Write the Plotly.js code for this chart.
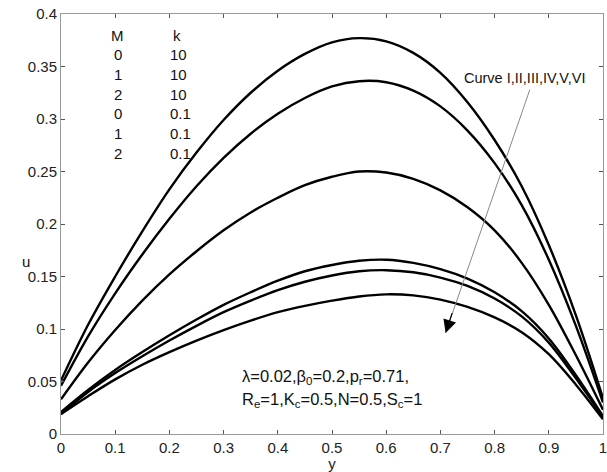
<!DOCTYPE html>
<html>
<head>
<meta charset="utf-8">
<script src="https://cdn.plot.ly/plotly-3.0.1.min.js"></script>
<style>html,body{margin:0;padding:0;background:#fff;}#chart{width:607px;height:472px;}</style>
</head>
<body>
<div id="chart"></div>
<script>
// x grid (y-coordinate across channel)
const yGrid = [0,0.05,0.1,0.15,0.2,0.25,0.3,0.35,0.4,0.45,0.5,0.55,0.6,0.65,0.7,0.75,0.8,0.85,0.9,0.95,1];
// velocity u for curves I..VI
const curveI   = [0.051,0.104,0.150,0.193,0.233,0.268,0.299,0.325,0.346,0.362,0.373,0.377,0.374,0.363,0.344,0.316,0.280,0.236,0.180,0.113,0.034];
const curveII  = [0.046,0.093,0.134,0.171,0.205,0.236,0.263,0.286,0.305,0.320,0.331,0.336,0.335,0.327,0.312,0.289,0.258,0.218,0.166,0.103,0.030];
const curveIII = [0.033,0.068,0.099,0.127,0.152,0.174,0.194,0.211,0.225,0.237,0.245,0.250,0.249,0.243,0.232,0.216,0.194,0.163,0.123,0.075,0.023];
const curveIV  = [0.021,0.042,0.061,0.078,0.094,0.109,0.123,0.135,0.146,0.155,0.161,0.165,0.166,0.163,0.157,0.148,0.135,0.117,0.091,0.056,0.017];
const curveV   = [0.019,0.040,0.058,0.074,0.089,0.103,0.116,0.127,0.137,0.145,0.151,0.155,0.156,0.154,0.149,0.141,0.129,0.112,0.087,0.053,0.016];
const curveVI  = [0.019,0.036,0.052,0.066,0.078,0.089,0.099,0.108,0.116,0.122,0.127,0.131,0.133,0.132,0.128,0.121,0.111,0.097,0.076,0.047,0.014];
const curves = [curveI, curveII, curveIII, curveIV, curveV, curveVI];
// legend table
const mValues = ["0","1","2","0","1","2"];
const kValues = ["10","10","10","0.1","0.1","0.1"];
const xTicks = [0,0.1,0.2,0.3,0.4,0.5,0.6,0.7,0.8,0.9,1];
const yTicks = [0,0.05,0.1,0.15,0.2,0.25,0.3,0.35,0.4];

const font = "Liberation Sans, Arial, sans-serif";
const txt = {family: font, size: 15, color: '#111'};
const txtBig = {family: font, size: 16.5, color: '#111'};
const traces = curves.map(c => ({
  x: yGrid, y: c, type: 'scatter', mode: 'lines',
  line: {color: '#000', width: 2.4, shape: 'spline', smoothing: 1},
  showlegend: false, hoverinfo: 'skip'
}));

const ann = [];
// table header
ann.push({xref:'paper', yref:'paper', x:0.105, y:0.95, text:'M', showarrow:false, xanchor:'center', yanchor:'middle', font:txt});
ann.push({xref:'paper', yref:'paper', x:0.214, y:0.95, text:'k', showarrow:false, xanchor:'center', yanchor:'middle', font:txt});
const rowY0 = 0.903, rowStep = 0.0468;
for (let i = 0; i < mValues.length; i++) {
  ann.push({xref:'paper', yref:'paper', x:0.105, y:rowY0 - i*rowStep, text:mValues[i], showarrow:false, xanchor:'center', yanchor:'middle', font:txt});
  ann.push({xref:'paper', yref:'paper', x:0.214, y:rowY0 - i*rowStep, text:kValues[i], showarrow:false, xanchor:'left', yanchor:'middle', xshift:-9, font:txt});
}
ann.push({xref:'x', yref:'y', x:0.855, y:0.339, text:'Curve I,II,III,IV,V,VI', showarrow:false, xanchor:'center', yanchor:'middle', font:{family:font,size:14.5,color:'#111'}});
// arrow head (black) along gray pointer line
ann.push({xref:'x', yref:'y', axref:'x', ayref:'y', x:0.7096, y:0.0962, ax:0.7225, ay:0.1165, text:'', showarrow:true, arrowhead:2, arrowsize:2.2, arrowwidth:1.2, arrowcolor:'#000'});
ann.push({xref:'x', yref:'y', x:0.331, y:0.054, text:'λ=0.02,β<sub>0</sub>=0.2,p<sub>r</sub>=0.71,', showarrow:false, xanchor:'left', yanchor:'middle', font:txtBig});
ann.push({xref:'x', yref:'y', x:0.331, y:0.032, text:'R<sub>e</sub>=1,K<sub>c</sub>=0.5,N=0.5,S<sub>c</sub>=1', showarrow:false, xanchor:'left', yanchor:'middle', font:txtBig});
// y-axis label
ann.push({xref:'paper', yref:'paper', x:-0.065, y:0.41, text:'u', showarrow:false, xanchor:'center', yanchor:'middle', font:txt});

const layout = {
  width: 607, height: 472,
  margin: {l: 61, r: 4, t: 14, b: 38, pad: 0},
  paper_bgcolor: '#fff', plot_bgcolor: '#fff',
  font: {family: font, size: 15, color: '#222'},
  showlegend: false,
  xaxis: {
    range: [0, 1], tickvals: xTicks, ticktext: xTicks.map(String),
    ticks: 'inside', ticklen: 4, tickcolor: '#555', tickwidth: 1,
    showline: true, linecolor: '#999', linewidth: 1, mirror: 'ticks',
    showgrid: false, zeroline: false, ticklabeloverflow: 'allow',
    tickfont: {family: font, size: 15, color: '#222'},
    title: {text: 'y', font: {family: font, size: 15, color: '#222'}, standoff: 0}
  },
  yaxis: {
    range: [0, 0.4], tickvals: yTicks, ticktext: yTicks.map(String),
    ticks: 'inside', ticklen: 4, tickcolor: '#555', tickwidth: 1,
    showline: true, linecolor: '#999', linewidth: 1, mirror: 'ticks',
    showgrid: false, zeroline: false, ticklabeloverflow: 'allow',
    tickfont: {family: font, size: 15, color: '#222'}
  },
  shapes: [
    {type: 'line', xref: 'x', yref: 'y', x0: 0.865, y0: 0.328, x1: 0.7096, y1: 0.0962, line: {color: '#888', width: 1}}
  ],
  annotations: ann
};

Plotly.newPlot('chart', traces, layout, {staticPlot: true, displayModeBar: false});
</script>
</body>
</html>
